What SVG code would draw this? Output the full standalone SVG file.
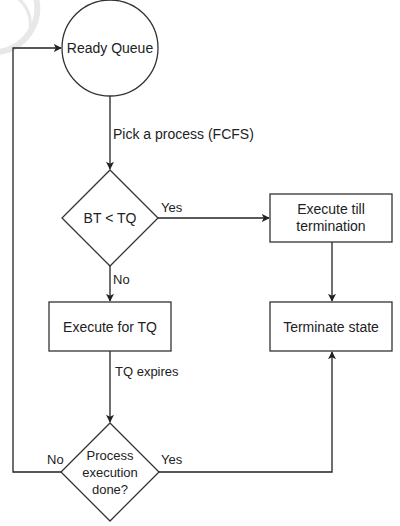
<svg xmlns="http://www.w3.org/2000/svg" width="400" height="526" viewBox="0 0 400 526">
<style>
.shape{fill:#fff;stroke:#333;stroke-width:1.3}
.edge{fill:none;stroke:#222;stroke-width:1.3}
.t{font-family:"Liberation Sans",Arial,sans-serif;font-size:14px;fill:#222;text-anchor:middle}
.l{font-family:"Liberation Sans",Arial,sans-serif;font-size:13px;fill:#222}
.wm{fill:none;stroke:#e8e8e8}
</style>
<defs>
<marker id="arr" viewBox="0 0 10 10" refX="9" refY="5" markerWidth="8" markerHeight="8" markerUnits="userSpaceOnUse" orient="auto">
<path d="M0,0 L10,5 L0,10 L2.5,5 Z" fill="#222"/>
</marker>
</defs>
<rect width="400" height="526" fill="#fff"/>
<g id="watermark">
<path class="wm" stroke-width="6" d="M36,-2 A44,44 0 0 1 -2,52"/>
<path class="wm" stroke-width="3" d="M18,-2 Q36,14 28,38"/>
</g>
<g id="connectors">
<path class="edge" d="M110,96 V169" marker-end="url(#arr)"/>
<path class="edge" d="M158,218 H269" marker-end="url(#arr)"/>
<path class="edge" d="M110,266 V301" marker-end="url(#arr)"/>
<path class="edge" d="M332,242 V301" marker-end="url(#arr)"/>
<path class="edge" d="M110,351 V422" marker-end="url(#arr)"/>
<path class="edge" d="M62,472 H13 V48 H61" marker-end="url(#arr)"/>
<path class="edge" d="M159,472 H332 V352" marker-end="url(#arr)"/>
<text class="l" x="113" y="139" style="font-size:14px">Pick a process (FCFS)</text>
<text class="l" x="161" y="212">Yes</text>
<text class="l" x="113" y="284">No</text>
<text class="l" x="115" y="376">TQ expires</text>
<text class="l" x="47" y="464">No</text>
<text class="l" x="161" y="464">Yes</text>
</g>
<g id="ready-queue">
<circle class="shape" cx="110" cy="48" r="48"/>
<text class="t" x="110" y="53">Ready Queue</text>
</g>
<g id="bt-lt-tq">
<polygon class="shape" points="110,170 158,218 110,266 62,218"/>
<text class="t" x="110" y="223">BT &lt; TQ</text>
</g>
<g id="execute-till-termination">
<rect class="shape" x="270" y="194" width="122" height="48"/>
<text class="t" x="331" y="214">Execute till</text>
<text class="t" x="331" y="231">termination</text>
</g>
<g id="execute-for-tq">
<rect class="shape" x="49" y="302" width="122" height="49"/>
<text class="t" x="110" y="332">Execute for TQ</text>
</g>
<g id="terminate-state">
<rect class="shape" x="270" y="302" width="122" height="49"/>
<text class="t" x="331" y="332">Terminate state</text>
</g>
<g id="process-done">
<polygon class="shape" points="110,423 159,472 110,521 61,472"/>
<text class="t" x="110" y="460" style="font-size:13px">Process</text>
<text class="t" x="110" y="477" style="font-size:13px">execution</text>
<text class="t" x="110" y="494" style="font-size:13px">done?</text>
</g>
</svg>
